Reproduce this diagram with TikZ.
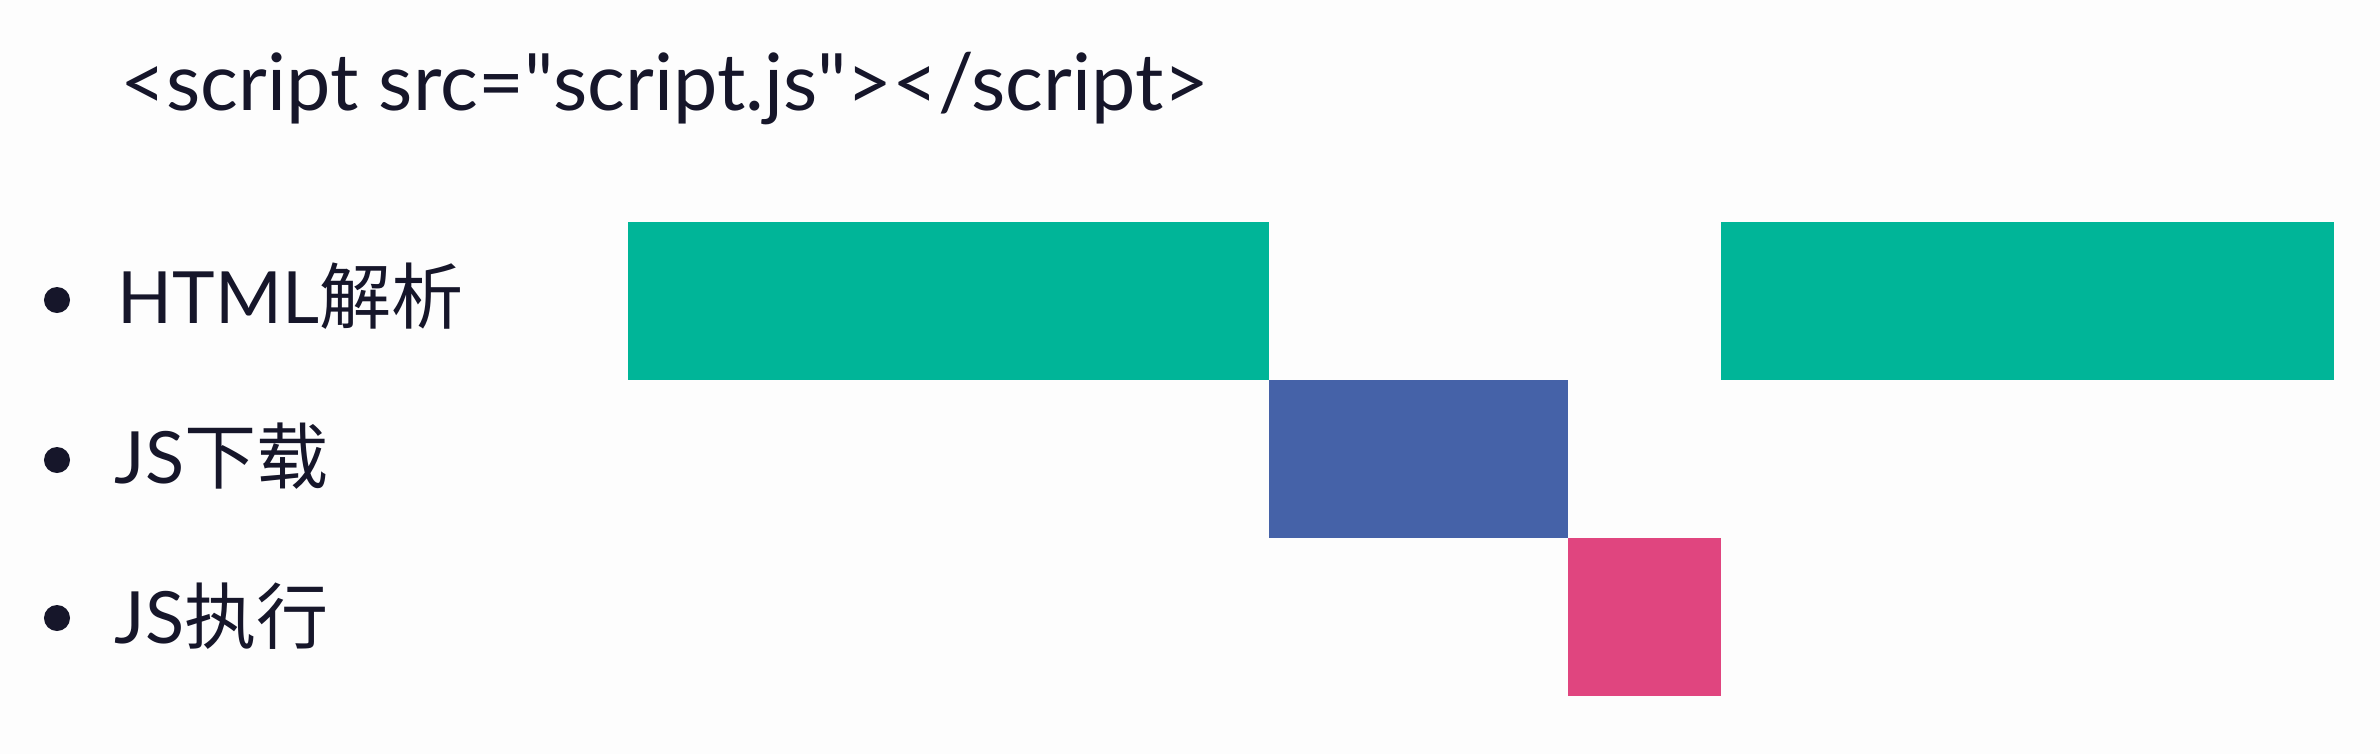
\documentclass[tikz,border=0pt]{standalone}
\usepackage{fontspec}
\setmainfont{Lato}
\newfontfamily\cjk{Noto Sans CJK SC}
\usetikzlibrary{positioning}
\definecolor{parsegreen}{RGB}{0,181,152}
\definecolor{loadblue}{RGB}{69,98,168}
\definecolor{runpink}{RGB}{224,69,127}
\definecolor{inkdark}{RGB}{22,22,42}
\definecolor{paper}{RGB}{253,253,253}

\begin{document}
\begin{tikzpicture}[
    x=0.01cm, y=-0.01cm,
    bar/.style={rectangle, inner sep=0pt, outer sep=0pt, anchor=north west, minimum height=1.58cm},
    item/.style={anchor=base west, inner sep=0pt, font=\fontsize{20.5}{24}\selectfont, text=inkdark},
    dot/.style={circle, fill=inkdark, inner sep=0pt, minimum size=0.26cm}
]

\fill[paper] (0,0) rectangle (2380,754);
\useasboundingbox (0,0) rectangle (2380,754);

\node[anchor=base west, inner sep=0pt, font=\fontsize{22.5}{26}\selectfont, text=inkdark] (tag) at (120,110) {<script src=\textquotedbl script.js\textquotedbl></script>};

\node[dot] (b1) at (57,300) {};
\node[dot] (b2) at (57,460) {};
\node[dot] (b3) at (57,618) {};
\node[item] (html) at (117,323) {HTML{\cjk 解析}};
\node[item] (jsload) at (114,483) {JS{\cjk 下载}};
\node[item] (jsrun) at (114,643) {JS{\cjk 执行}};

\node[bar, fill=parsegreen, minimum width=6.41cm] (parse1) at (628,222) {};
\node[bar, fill=loadblue, minimum width=2.98cm] (load) at (parse1.south east) {};
\node[bar, fill=runpink, minimum width=1.53cm] (exec) at (load.south east) {};
\node[bar, fill=parsegreen, minimum width=6.13cm] (parse2) at (exec.east |- parse1.north) {};

\end{tikzpicture}
\end{document}
